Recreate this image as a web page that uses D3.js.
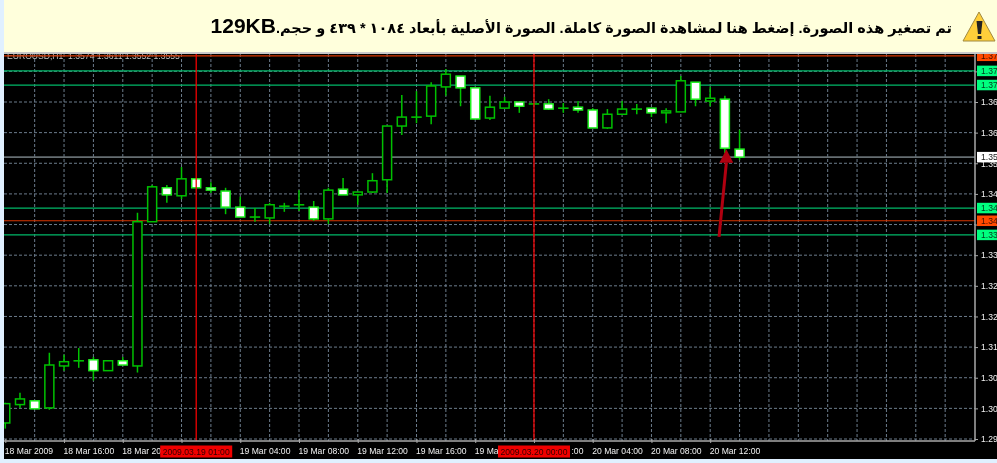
<!DOCTYPE html>
<html>
<head>
<meta charset="utf-8">
<script src="https://cdn.jsdelivr.net/npm/d3@7"></script>
<style>
    html, body { margin: 0; padding: 0; background: #e0f0ff; overflow: hidden; }
    svg { display: block; filter: blur(0.3px); }
    text { font-family: "Liberation Sans", "DejaVu Sans", sans-serif; }
    .axis text { font-size: 8.6px; fill: #f0f0f0; }
</style>
</head>
<body>
<div id="chart"></div>
<script>
// hourly EURUSD candles, first one is 18 Mar 2009 12:00
const opens = [1.2984,1.3023,1.3031,1.3016,1.3105,1.3116,1.3118,1.3095,1.3116,1.3105,1.3411,1.3483,1.3466,1.3502,1.3483,1.3476,1.3442,1.3421,1.3419,1.3444,1.3447,1.3442,1.3417,1.3480,1.3468,1.3474,1.3500,1.3614,1.3633,1.3635,1.3697,1.3720,1.3695,1.3631,1.3652,1.3665,1.3661,1.3661,1.3652,1.3654,1.3648,1.3610,1.3639,1.3650,1.3652,1.3642,1.3644,1.3707,1.3667,1.3671,1.3565];
const highs = [1.3027,1.3048,1.3031,1.3133,1.3129,1.3143,1.3124,1.3116,1.3124,1.3430,1.3489,1.3489,1.3527,1.3502,1.3495,1.3483,1.3464,1.3440,1.3451,1.3451,1.3478,1.3455,1.3483,1.3504,1.3474,1.3514,1.3614,1.3680,1.3688,1.3707,1.3735,1.3720,1.3695,1.3678,1.3676,1.3665,1.3663,1.3671,1.3663,1.3667,1.3652,1.3650,1.3667,1.3661,1.3652,1.3652,1.3720,1.3707,1.3697,1.3678,1.3606];
const lows = [1.2972,1.3016,1.3014,1.3012,1.3095,1.3101,1.3074,1.3095,1.3107,1.3091,1.3411,1.3451,1.3459,1.3483,1.3472,1.3427,1.3421,1.3411,1.3406,1.3432,1.3434,1.3413,1.3406,1.3468,1.3447,1.3472,1.3472,1.3595,1.3620,1.3618,1.3678,1.3656,1.3629,1.3627,1.3652,1.3642,1.3659,1.3648,1.3642,1.3642,1.3610,1.3608,1.3639,1.3639,1.3633,1.3620,1.3644,1.3656,1.3656,1.3557,1.3542];
const closes = [1.3025,1.3035,1.3014,1.3107,1.3114,1.3116,1.3095,1.3116,1.3107,1.3411,1.3485,1.3468,1.3502,1.3483,1.3478,1.3442,1.3421,1.3421,1.3447,1.3444,1.3447,1.3417,1.3478,1.3468,1.3474,1.3498,1.3614,1.3633,1.3633,1.3699,1.3724,1.3695,1.3629,1.3654,1.3665,1.3656,1.3661,1.3650,1.3652,1.3648,1.3610,1.3639,1.3650,1.3650,1.3642,1.3646,1.3710,1.3671,1.3673,1.3567,1.3548];

// labels are what stays readable, the rest is covered by tags and date boxes
const priceTicks = [1.2950,1.3015,1.3080,1.3145,1.3210,1.3275,1.3340,1.3405,1.3470,1.3535,1.3600,1.3665,1.3730];
const priceLabels = ["1.29","1.30","1.30","1.31","1.32","1.32","1.33","","1.34","1.35","1.36","1.36",""];

const timeTickHours = [0,4,8,12,16,20,24,28,32,36,40,44,48];
const timeLabels = ["18 Mar 2009","18 Mar 16:00","18 Mar 20","","19 Mar 04:00","19 Mar 08:00","19 Mar 12:00","19 Mar 16:00","19 Ma",":00","20 Mar 04:00","20 Mar 08:00","20 Mar 12:00"];
const gridHours = [2,4,6,8,10,12,14,16,18,20,22,24,26,28,30,32,34,36,38,40,42,44,46,48,50,52,54,56,58,60,62,64];

// horizontal level lines with their price tags
const levelPrices = [1.3763,1.3731,1.3701,1.3548,1.3440,1.3413,1.3383];
const levelLabels = ["1.37","1.37","1.37","1.35","1.34","1.34","1.33"];
const levelKinds = ["red","green","green","bid","green","red","green"];

// vertical period markers
const markerHours = [13,36];
const markerLabels = ["2009.03.19 01:00","2009.03.20 00:00"];

const chartTitle = "EUROUSD,H1  1.3574 1.3611 1.3552 1.3555";
const bannerArabic = "تم تصغير هذه الصورة. إضغط هنا لمشاهدة الصورة كاملة. الصورة الأصلية بأبعاد ١٠٨٤ * ٤٣٩ و حجم.";
const bannerSize = "129KB";

const arrowFrom = {hour: 48.6, price: 1.3379};
const arrowTip = {hour: 49.1, price: 1.3565};
const arrowBase = 1.3536;

const startTime = new Date(2009, 2, 18, 12);
const toDate = h => new Date(startTime.getTime() + h * 3600000);

const width = 997, height = 463;
const plot = {left: 4, top: 54, right: 975, axisY: 441, bottom: 459};

const x = d3.scaleTime().domain([toDate(0), toDate(48)]).range([5.3, 710.2]);
const y = d3.scaleLinear().domain([1.2950, 1.3665]).range([439, 102]);

const kindStroke = {red: "#d83600", green: "#00b868", bid: "#666e72"};
const kindFill = {red: "#ff4a00", green: "#00ff7f", bid: "#ffffff"};
const kindText = {red: "#401000", green: "#004020", bid: "#202020"};

const svg = d3.select("#chart").append("svg").attr("width", width).attr("height", height);

const defs = svg.append("defs");
defs.append("clipPath").attr("id", "plot-clip")
    .append("rect")
    .attr("x", plot.left).attr("y", plot.top)
    .attr("width", plot.right - plot.left).attr("height", plot.axisY - plot.top);
defs.append("clipPath").attr("id", "tag-clip")
    .append("rect")
    .attr("x", plot.right).attr("y", plot.top)
    .attr("width", width - plot.right).attr("height", plot.bottom - plot.top);

// banner
svg.append("rect").attr("x", plot.left).attr("y", 0)
    .attr("width", width - plot.left).attr("height", 52).attr("fill", "#ffffdc");
svg.append("rect").attr("x", plot.left).attr("y", 52)
    .attr("width", width - plot.left).attr("height", 2).attr("fill", "#c8c8c8");

const banner = svg.append("text")
    .attr("x", 952).attr("y", 33)
    .attr("direction", "rtl")
    .attr("font-weight", "bold")
    .attr("fill", "#000");
banner.append("tspan").attr("font-size", 14.5).text(bannerArabic);
banner.append("tspan").attr("font-size", 21).text(bannerSize);

// warning icon
const icon = svg.append("g");
icon.append("path").attr("d", "M979,12 L995,41 L963,41 Z")
    .attr("fill", "#ffcf3a").attr("stroke", "#a08a40").attr("stroke-width", 1).attr("stroke-linejoin", "round");
icon.append("path").attr("d", "M976.5,21 L982.5,21 L981,34 L978,34 Z").attr("fill", "#222");
icon.append("rect").attr("x", 977.5).attr("y", 36).attr("width", 4).attr("height", 3).attr("fill", "#222");

// chart background
svg.append("rect").attr("x", plot.left).attr("y", plot.top)
    .attr("width", width - plot.left).attr("height", plot.bottom - plot.top).attr("fill", "#000");

const main = svg.append("g").attr("clip-path", "url(#plot-clip)");

// grid
main.selectAll(".grid-v").data(gridHours).enter().append("line")
    .attr("class", "grid-v")
    .attr("x1", d => x(toDate(d))).attr("x2", d => x(toDate(d)))
    .attr("y1", plot.top).attr("y2", plot.axisY)
    .attr("stroke", "#6c7c8c").attr("stroke-dasharray", "3,2");

main.selectAll(".grid-h").data(priceTicks).enter().append("line")
    .attr("class", "grid-h")
    .attr("x1", plot.left).attr("x2", plot.right)
    .attr("y1", d => y(d)).attr("y2", d => y(d))
    .attr("stroke", "#6c7c8c").attr("stroke-dasharray", "3,2");

// title sits under the top level line
main.append("text")
    .attr("x", 7).attr("y", 59)
    .attr("font-size", 8.6).attr("fill", "#c0c0c0")
    .attr("xml:space", "preserve")
    .text(chartTitle);

// levels
main.selectAll(".level").data(levelPrices).enter().append("line")
    .attr("class", "level")
    .attr("x1", plot.left).attr("x2", plot.right)
    .attr("y1", d => y(d)).attr("y2", d => y(d))
    .attr("stroke", (d, i) => kindStroke[levelKinds[i]])
    .attr("stroke-width", (d, i) => levelKinds[i] == "bid" ? 1.6 : 1.2);

// candles
const candles = opens.map((o, i) => ({hour: i, open: o, high: highs[i], low: lows[i], close: closes[i]}));
const bodyWidth = 9;

const candle = main.selectAll(".candle").data(candles).enter().append("g").attr("class", "candle");

candle.append("line")
    .attr("x1", d => x(toDate(d.hour))).attr("x2", d => x(toDate(d.hour)))
    .attr("y1", d => y(d.high)).attr("y2", d => y(d.low))
    .attr("stroke", "#00c400").attr("stroke-width", 1.5);

// a doji has no height, keep a sliver so the stroke still shows
candle.append("rect")
    .attr("x", d => x(toDate(d.hour)) - bodyWidth / 2)
    .attr("width", bodyWidth)
    .attr("y", d => y(Math.max(d.open, d.close)))
    .attr("height", d => Math.max(Math.abs(y(d.open) - y(d.close)), 0.1))
    .attr("fill", d => d.close < d.open ? "#fff" : "#000")
    .attr("stroke", d => d.close < d.open ? "#20f020" : "#00c000")
    .attr("stroke-width", 1.5);

// markers
main.selectAll(".marker").data(markerHours).enter().append("line")
    .attr("class", "marker")
    .attr("x1", d => x(toDate(d))).attr("x2", d => x(toDate(d)))
    .attr("y1", plot.top).attr("y2", plot.axisY)
    .attr("stroke", "#f00000").attr("stroke-width", 1.3);

// arrow
const arrowX = d => x(toDate(d));
main.append("line")
    .attr("x1", arrowX(arrowFrom.hour)).attr("y1", y(arrowFrom.price))
    .attr("x2", arrowX(arrowTip.hour)).attr("y2", y(arrowBase))
    .attr("stroke", "#b00010").attr("stroke-width", 3);
main.append("path")
    .attr("d", d3.line()([
        [arrowX(arrowTip.hour), y(arrowTip.price)],
        [arrowX(arrowTip.hour + 0.47), y(arrowBase)],
        [arrowX(arrowTip.hour - 0.47), y(arrowBase)]
    ]) + "Z")
    .attr("fill", "#b00010");

// axes
const boxHalf = 36;

const xAxis = d3.axisBottom(x)
    .tickValues(timeTickHours.map(toDate))
    .tickFormat((d, i) => timeLabels[i])
    .tickSize(4);

const xAxisG = svg.append("g").attr("class", "axis")
    .attr("transform", `translate(0,${plot.axisY})`)
    .call(xAxis);
xAxisG.select(".domain").attr("stroke", "#a8a8a8").attr("stroke-width", 1.5)
    .attr("d", `M${plot.left},0H${plot.right}`);
xAxisG.selectAll(".tick line").attr("stroke", "#a8a8a8").attr("y1", -2).attr("y2", 2);
xAxisG.selectAll(".tick text")
    .attr("text-anchor", "start").attr("dy", 0).attr("y", 13)
    .attr("x", (d, i) => markerHours.includes(timeTickHours[i]) ? boxHalf + 1 : -1);

const yAxis = d3.axisRight(y)
    .tickValues(priceTicks)
    .tickFormat((d, i) => priceLabels[i])
    .tickSize(3);

const yAxisG = svg.append("g").attr("class", "axis")
    .attr("transform", `translate(${plot.right},0)`)
    .call(yAxis);
yAxisG.select(".domain").attr("stroke", "#a8a8a8").attr("stroke-width", 1.5)
    .attr("d", `M0,${plot.top}V${plot.axisY}`);
yAxisG.selectAll(".tick line").attr("stroke", "#a8a8a8");
yAxisG.selectAll(".tick text").attr("x", 6);

// price tags over the axis labels
const tagLayer = svg.append("g").attr("clip-path", "url(#tag-clip)");
const tags = tagLayer.selectAll(".tag").data(levelPrices).enter().append("g")
    .attr("class", "tag")
    .attr("transform", d => `translate(${plot.right + 2},${y(d)})`);
tags.append("rect")
    .attr("x", 0).attr("y", -5.25)
    .attr("width", 20).attr("height", 10.5)
    .attr("fill", (d, i) => kindFill[levelKinds[i]]);
tags.append("text")
    .attr("x", 4).attr("y", 3.2)
    .attr("font-size", 8.6)
    .attr("fill", (d, i) => kindText[levelKinds[i]])
    .text((d, i) => levelLabels[i]);

// date boxes on the time axis
const boxes = svg.selectAll(".date-box").data(markerHours).enter().append("g")
    .attr("class", "date-box")
    .attr("transform", d => `translate(${x(toDate(d))},${plot.axisY + 10})`);
boxes.append("rect")
    .attr("x", -boxHalf).attr("y", -5.5)
    .attr("width", boxHalf * 2).attr("height", 12)
    .attr("fill", "#f00000");
boxes.append("text")
    .attr("text-anchor", "middle").attr("y", 3.5)
    .attr("font-size", 8.6).attr("fill", "#300000")
    .text((d, i) => markerLabels[i]);
</script>
</body>
</html>
